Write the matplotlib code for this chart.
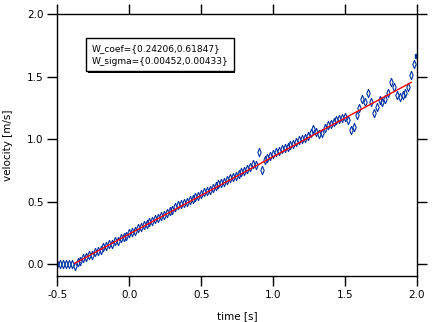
import matplotlib
matplotlib.use("Agg")
import matplotlib.pyplot as plt
import matplotlib.patheffects as pe

time = [
    -0.50, -0.48, -0.46, -0.44, -0.42, -0.40, -0.38, -0.36, -0.34, -0.32,
    -0.30, -0.28, -0.26, -0.24, -0.22, -0.20, -0.18, -0.16, -0.14, -0.12,
    -0.10, -0.08, -0.06, -0.04, -0.02, 0.00, 0.02, 0.04, 0.06, 0.08,
    0.10, 0.12, 0.14, 0.16, 0.18, 0.20, 0.22, 0.24, 0.26, 0.28,
    0.30, 0.32, 0.34, 0.36, 0.38, 0.40, 0.42, 0.44, 0.46, 0.48,
    0.50, 0.52, 0.54, 0.56, 0.58, 0.60, 0.62, 0.64, 0.66, 0.68,
    0.70, 0.72, 0.74, 0.76, 0.78, 0.80, 0.82, 0.84, 0.86, 0.88,
    0.90, 0.92, 0.94, 0.96, 0.98, 1.00, 1.02, 1.04, 1.06, 1.08,
    1.10, 1.12, 1.14, 1.16, 1.18, 1.20, 1.22, 1.24, 1.26, 1.28,
    1.30, 1.32, 1.34, 1.36, 1.38, 1.40, 1.42, 1.44, 1.46, 1.48,
    1.50, 1.52, 1.54, 1.56, 1.58, 1.60, 1.62, 1.64, 1.66, 1.68,
    1.70, 1.72, 1.74, 1.76, 1.78, 1.80, 1.82, 1.84, 1.86, 1.88,
    1.90, 1.92, 1.94, 1.96, 1.98, 2.00,
]
velocity = [
    0.000, 0.000, 0.000, 0.000, 0.000, 0.000, -0.012, 0.015, 0.030, 0.048,
    0.055, 0.072, 0.078, 0.098, 0.110, 0.116, 0.138, 0.145, 0.160, 0.166,
    0.184, 0.190, 0.210, 0.222, 0.228, 0.250, 0.262, 0.270, 0.288, 0.296,
    0.312, 0.325, 0.340, 0.348, 0.362, 0.372, 0.390, 0.395, 0.412, 0.422,
    0.432, 0.458, 0.470, 0.478, 0.492, 0.500, 0.515, 0.524, 0.540, 0.548,
    0.560, 0.575, 0.586, 0.596, 0.612, 0.622, 0.640, 0.650, 0.660, 0.672,
    0.690, 0.700, 0.705, 0.722, 0.735, 0.742, 0.760, 0.775, 0.805, 0.790,
    0.900, 0.755, 0.835, 0.850, 0.865, 0.880, 0.900, 0.905, 0.920, 0.930,
    0.940, 0.950, 0.960, 0.980, 0.995, 1.000, 1.010, 1.025, 1.050, 1.080,
    1.055, 1.040, 1.050, 1.090, 1.110, 1.120, 1.140, 1.150, 1.160, 1.170,
    1.180, 1.150, 1.070, 1.100, 1.190, 1.250, 1.320, 1.300, 1.370, 1.300,
    1.210, 1.260, 1.310, 1.300, 1.320, 1.370, 1.460, 1.420, 1.350, 1.340,
    1.350, 1.370, 1.420, 1.510, 1.600, 1.666,
]

# linear fit result
w_coef = [0.24206, 0.61847]
w_sigma = [0.00452, 0.00433]
fit_range = [-0.38, 1.96]

x_ticks = [-0.5, 0.0, 0.5, 1.0, 1.5, 2.0]
y_ticks = [0.0, 0.5, 1.0, 1.5, 2.0]

plt.rcParams["font.family"] = "DejaVu Sans"
plt.rcParams["font.size"] = 7.5

fig = plt.figure(figsize=(4.45, 3.22), dpi=100)
ax = fig.add_axes([0.129, 0.142, 0.808, 0.814])

# narrow upright diamond like the Igor marker
diamond = [(0, 1), (0.4, 0), (0, -1), (-0.4, 0), (0, 1)]
ax.plot(time[:-1], velocity[:-1], linestyle="none", marker=diamond, markersize=6,
        markerfacecolor="none", markeredgecolor="#0033a0", markeredgewidth=0.8)
ax.plot(time[-1], velocity[-1], linestyle="none", marker="s", markersize=3,
        color="#0033a0")

fit_y = [w_coef[0] + w_coef[1] * t for t in fit_range]
ax.plot(fit_range, fit_y, color="red", linewidth=1)

ax.set_xlim(-0.5, 2.0)
ax.set_ylim(-0.096, 2.0)
ax.set_xticks(x_ticks)
ax.set_yticks(y_ticks)
ax.set_xticklabels([f"{v:.1f}" for v in x_ticks])
ax.set_yticklabels([f"{v:.1f}" for v in y_ticks])
ax.tick_params(direction="out", length=7, width=1, top=True, right=True,
               labeltop=False, labelright=False, pad=3)
for s in ax.spines.values():
    s.set_linewidth(1)

ax.set_xlabel("time [s]", labelpad=8)
ax.set_ylabel("velocity [m/s]", labelpad=10)

txt = ax.text(0.095, 0.887,
              f"W_coef={{{w_coef[0]:.5f},{w_coef[1]:.5f}}}\n"
              f"W_sigma={{{w_sigma[0]:.5f},{w_sigma[1]:.5f}}}",
              transform=ax.transAxes, va="top", ha="left", fontsize=6.5,
              linespacing=1.6,
              bbox=dict(boxstyle="square,pad=0.6", facecolor="white",
                        edgecolor="black", linewidth=1))
txt.get_bbox_patch().set_path_effects([
    pe.SimplePatchShadow(offset=(1, -1), shadow_rgbFace="black", alpha=1),
    pe.Normal(),
])

fig.savefig("out.png", dpi=100)
